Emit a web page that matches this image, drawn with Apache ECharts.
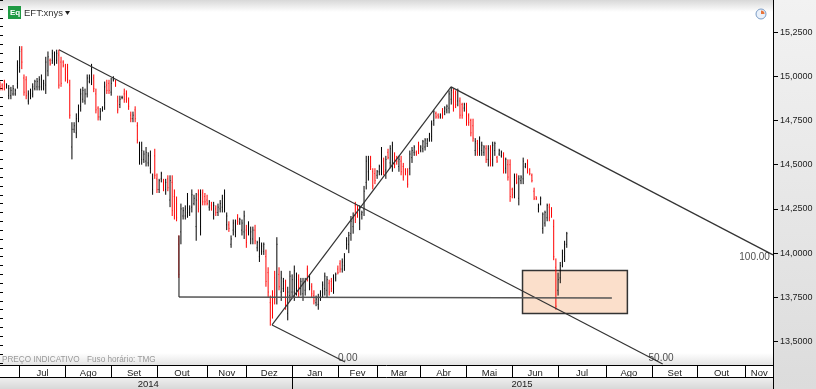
<!DOCTYPE html>
<html>
<head>
<meta charset="utf-8">
<style>html,body{margin:0;padding:0;background:#fff}#chart{width:816px;height:389px}</style>
<script src="https://cdn.jsdelivr.net/npm/echarts@6/dist/echarts.min.js"></script>
</head>
<body>
<div id="chart"></div>
<script>
// daily OHLC, one bar per session
var opens = [
  14.96,14.95,14.97,14.94,14.89,14.89,14.90,14.90,14.96,15.05,
  15.15,14.99,14.98,14.86,14.89,14.90,14.93,14.94,14.94,14.94,
  14.93,14.95,15.03,15.09,15.09,15.08,15.09,15.12,15.08,15.08,
  15.04,15.05,14.95,14.60,14.70,14.68,14.76,14.83,14.87,14.86,
  14.90,14.97,14.98,14.99,14.90,14.82,14.77,14.81,14.85,14.95,
  14.96,14.91,14.98,14.97,14.86,14.84,14.88,14.90,14.90,14.86,
  14.78,14.76,14.81,14.72,14.53,14.53,14.53,14.52,14.51,14.48,
  14.36,14.55,14.42,14.36,14.42,14.40,14.36,14.42,14.30,14.40,
  14.32,14.28,14.05,14.12,14.21,14.21,14.23,14.23,14.26,14.28,
  14.15,14.33,14.15,14.34,14.32,14.30,14.26,14.27,14.22,14.25,
  14.23,14.25,14.26,14.27,14.16,14.16,14.05,14.13,14.12,14.20,
  14.17,14.13,14.12,14.13,14.12,14.08,14.08,14.13,14.03,13.98,
  14.01,14.01,13.98,13.89,13.72,13.75,13.86,13.75,13.88,13.78,
  13.80,13.82,13.66,13.76,13.78,13.78,13.80,13.85,13.80,13.77,
  13.79,13.91,13.82,13.81,13.76,13.72,13.71,13.75,13.78,13.80,
  13.79,13.83,13.84,13.80,13.86,13.91,13.94,13.91,13.93,14.05,
  14.05,14.11,14.15,14.27,14.25,14.17,14.22,14.25,14.40,14.46,
  14.54,14.46,14.45,14.44,14.46,14.49,14.52,14.47,14.57,14.51,
  14.50,14.55,14.53,14.49,14.52,14.49,14.47,14.46,14.48,14.54,
  14.57,14.57,14.61,14.58,14.59,14.60,14.62,14.65,14.66,14.75,
  14.79,14.78,14.77,14.81,14.80,14.81,14.82,14.87,14.91,14.90,
  14.86,14.86,14.84,14.82,14.82,14.78,14.75,14.72,14.58,14.62,
  14.59,14.58,14.57,14.59,14.53,14.58,14.53,14.58,14.54,14.56,
  14.55,14.55,14.48,14.50,14.50,14.36,14.34,14.43,14.31,14.41,
  14.42,14.49,14.52,14.47,14.44,14.35,14.32,14.25,14.28,14.14,
  14.17,14.20,14.26,14.25,14.15,13.92,13.79,13.86,13.95,13.98,14.05
];
var highs = [
  14.97,14.96,14.98,14.96,14.95,14.94,14.95,14.93,15.09,15.17,
  15.17,15.01,15.00,14.92,14.93,14.96,14.98,14.99,15.00,15.01,
  14.98,15.11,15.14,15.10,15.15,15.14,15.15,15.15,15.11,15.09,
  15.07,15.07,14.98,14.74,14.74,14.79,14.84,14.93,14.94,14.93,
  15.01,15.01,15.07,15.01,14.93,14.83,14.82,14.83,14.97,14.98,
  14.98,14.99,15.00,14.98,14.89,14.89,14.89,14.93,14.92,14.88,
  14.80,14.80,14.83,14.74,14.63,14.63,14.58,14.60,14.57,14.58,
  14.45,14.59,14.45,14.42,14.46,14.42,14.42,14.44,14.44,14.44,
  14.36,14.32,14.10,14.28,14.26,14.27,14.34,14.27,14.36,14.33,
  14.34,14.36,14.36,14.36,14.34,14.33,14.30,14.29,14.29,14.27,
  14.28,14.30,14.33,14.36,14.23,14.18,14.10,14.19,14.19,14.22,
  14.20,14.19,14.24,14.16,14.18,14.15,14.15,14.16,14.07,14.09,
  14.06,14.06,14.02,13.92,13.76,13.79,13.90,14.09,13.92,13.90,
  13.86,13.85,13.81,13.90,13.88,13.93,13.89,13.88,13.86,13.86,
  13.86,13.93,13.88,13.83,13.79,13.76,13.77,13.79,13.84,13.89,
  13.87,13.85,13.86,13.88,13.89,13.93,13.96,13.97,14.00,14.09,
  14.12,14.21,14.23,14.29,14.27,14.27,14.24,14.38,14.55,14.55,
  14.55,14.48,14.48,14.47,14.50,14.60,14.54,14.55,14.59,14.61,
  14.63,14.57,14.55,14.55,14.55,14.51,14.48,14.48,14.58,14.60,
  14.61,14.58,14.63,14.61,14.64,14.65,14.65,14.68,14.75,14.81,
  14.80,14.79,14.79,14.82,14.83,14.84,14.92,14.94,14.93,14.92,
  14.93,14.88,14.85,14.85,14.85,14.79,14.76,14.76,14.65,14.64,
  14.66,14.63,14.61,14.61,14.61,14.61,14.63,14.63,14.55,14.59,
  14.58,14.57,14.54,14.53,14.53,14.37,14.45,14.45,14.44,14.44,
  14.54,14.51,14.53,14.48,14.45,14.37,14.32,14.28,14.32,14.23,
  14.24,14.28,14.28,14.26,14.19,13.97,13.89,13.95,14.02,14.07,14.12
];
var lows = [
  14.92,14.92,14.92,14.93,14.87,14.87,14.89,14.89,14.93,15.02,
  15.04,14.89,14.87,14.84,14.87,14.88,14.92,14.92,14.92,14.92,
  14.92,14.90,15.00,15.06,15.07,15.06,15.07,14.93,14.94,15.05,
  14.97,14.96,14.76,14.53,14.68,14.65,14.74,14.80,14.85,14.84,
  14.88,14.96,14.95,14.91,14.79,14.75,14.75,14.80,14.81,14.90,
  14.90,14.89,14.97,14.94,14.79,14.82,14.87,14.85,14.85,14.81,
  14.74,14.74,14.74,14.62,14.50,14.50,14.51,14.49,14.49,14.45,
  14.33,14.42,14.34,14.34,14.40,14.35,14.33,14.35,14.26,14.21,
  14.19,14.18,13.86,14.05,14.19,14.19,14.20,14.21,14.23,14.27,
  14.07,14.23,14.10,14.27,14.27,14.27,14.24,14.24,14.19,14.21,
  14.21,14.23,14.23,14.23,14.13,14.12,14.03,14.10,14.09,14.16,
  14.16,14.10,14.08,14.03,14.10,14.05,14.05,14.05,14.01,13.95,
  13.99,13.99,13.81,13.75,13.59,13.63,13.71,13.71,13.79,13.73,
  13.78,13.68,13.62,13.73,13.75,13.73,13.76,13.75,13.76,13.73,
  13.76,13.84,13.79,13.75,13.71,13.70,13.68,13.73,13.75,13.76,
  13.75,13.76,13.78,13.77,13.84,13.88,13.89,13.89,13.90,14.02,
  14.00,14.07,14.11,14.17,14.20,14.13,14.19,14.21,14.36,14.41,
  14.47,14.36,14.39,14.42,14.44,14.44,14.44,14.42,14.53,14.48,
  14.46,14.48,14.50,14.46,14.44,14.41,14.44,14.37,14.44,14.51,
  14.55,14.55,14.56,14.57,14.57,14.58,14.60,14.63,14.63,14.72,
  14.76,14.76,14.76,14.76,14.78,14.79,14.79,14.84,14.80,14.82,
  14.83,14.76,14.76,14.80,14.72,14.72,14.66,14.63,14.55,14.55,
  14.55,14.55,14.55,14.51,14.49,14.49,14.49,14.55,14.51,14.55,
  14.54,14.45,14.45,14.41,14.29,14.31,14.31,14.39,14.27,14.39,
  14.39,14.48,14.45,14.44,14.40,14.30,14.30,14.23,14.27,14.11,
  14.15,14.18,14.18,14.20,13.96,13.68,13.76,13.83,13.92,13.95,14.03
];
var closes = [
  14.94,14.93,14.93,14.95,14.93,14.92,14.93,14.92,15.06,15.14,
  15.08,14.91,14.89,14.90,14.92,14.94,14.97,14.97,14.98,14.98,
  14.96,15.08,15.11,15.07,15.13,15.12,15.13,14.95,14.96,15.06,
  14.99,14.98,14.78,14.70,14.72,14.76,14.81,14.90,14.92,14.90,
  14.99,14.99,15.04,14.93,14.81,14.77,14.80,14.82,14.94,14.92,
  14.92,14.96,14.99,14.95,14.81,14.87,14.88,14.87,14.87,14.83,
  14.76,14.78,14.76,14.64,14.60,14.58,14.56,14.57,14.55,14.55,
  14.42,14.44,14.36,14.41,14.45,14.37,14.40,14.37,14.41,14.24,
  14.21,14.20,13.88,14.25,14.24,14.25,14.31,14.25,14.33,14.31,
  14.30,14.25,14.33,14.29,14.29,14.28,14.29,14.25,14.27,14.23,
  14.26,14.28,14.31,14.34,14.21,14.14,14.08,14.17,14.17,14.18,
  14.19,14.17,14.21,14.06,14.16,14.12,14.13,14.07,14.06,14.06,
  14.04,14.05,13.84,13.78,13.62,13.66,13.74,14.05,13.81,13.86,
  13.84,13.70,13.78,13.87,13.85,13.90,13.87,13.77,13.84,13.83,
  13.84,13.86,13.86,13.77,13.73,13.74,13.75,13.77,13.82,13.87,
  13.85,13.78,13.80,13.86,13.88,13.89,13.91,13.95,13.98,14.07,
  14.10,14.18,14.21,14.19,14.22,14.25,14.23,14.35,14.52,14.53,
  14.49,14.38,14.41,14.46,14.49,14.57,14.46,14.53,14.54,14.59,
  14.61,14.50,14.52,14.53,14.46,14.43,14.45,14.39,14.56,14.58,
  14.60,14.56,14.58,14.60,14.63,14.64,14.64,14.67,14.73,14.80,
  14.77,14.77,14.78,14.78,14.82,14.83,14.90,14.92,14.82,14.84,
  14.92,14.78,14.78,14.84,14.74,14.74,14.68,14.65,14.63,14.57,
  14.65,14.61,14.60,14.53,14.59,14.51,14.61,14.62,14.52,14.58,
  14.57,14.47,14.53,14.43,14.32,14.33,14.43,14.40,14.42,14.43,
  14.52,14.50,14.46,14.45,14.41,14.31,14.31,14.27,14.31,14.22,
  14.23,14.27,14.20,14.21,13.98,13.70,13.85,13.93,14.00,14.05,14.11
];

// x axis runs in session index; these are the month separators
var monthTicks = [9, 30, 51, 72, 95, 113, 134, 155, 173, 193, 214, 235, 256, 278, 299, 320, 342, 354.6];
var monthLabels = ['Jul', 'Ago', 'Set', 'Out', 'Nov', 'Dez', 'Jan', 'Fev', 'Mar', 'Abr', 'Mai', 'Jun', 'Jul', 'Ago', 'Set', 'Out', 'Nov'];
var yearTicks = [134, 354.6];
var yearLabelPos = [68, 239.5];
var yearLabels = ['2014', '2015'];
var priceTicks = [13.5, 13.75, 14, 14.25, 14.5, 14.75, 15, 15.25];
var minorTicks = [];
for (var t = 1338; t <= 1543; t += 5) minorTicks.push(t / 100);

// drawn trend lines, [session, price] ends
var trendLines = [
  [[27.06, 15.15], [304, 13.373]],
  [[124.8, 13.594], [158.3, 13.385]],
  [[206.9, 14.94], [354.6, 13.99]],
  [[124.8, 13.594], [206.9, 14.94]],
  [[82.1, 13.752], [280.7, 13.746]],
  [[82.1, 14.1], [82.1, 13.752]]
];
var fibLabels = [
  { name: '0.00', value: [164.2, 13.407] },
  { name: '50.00', value: [309.2, 13.407] },
  { name: '100.00', value: [353.4, 13.978] }
];
var boxArea = [[239.7, 13.902], [287.8, 13.659]];

var font = 'Liberation Sans';
var bars = opens.map(function (o, i) {
  return [i, o, highs[i], lows[i], closes[i]];
});
var monthMids = monthLabels.map(function (m, i) {
  return (monthTicks[i] + monthTicks[i + 1]) / 2;
});

function renderBar(params, api) {
  var i = api.value(0);
  var top = api.coord([i, api.value(2)]);
  var bottom = api.coord([i, api.value(3)]);
  var open = api.coord([i, api.value(1)]);
  var close = api.coord([i, api.value(4)]);
  var color = api.value(4) < api.value(1) ? '#ff0000' : '#000000';
  var style = { stroke: color, lineWidth: 1 };
  return {
    type: 'group',
    children: [
      { type: 'line', shape: { x1: top[0], y1: top[1], x2: bottom[0], y2: bottom[1] }, style: style },
      { type: 'line', shape: { x1: open[0] - 0.5, y1: open[1], x2: open[0], y2: open[1] }, style: style },
      { type: 'line', shape: { x1: close[0], y1: close[1], x2: close[0] + 0.5, y2: close[1] }, style: style }
    ]
  };
}

var series = [
  {
    type: 'line',
    data: [],
    silent: true,
    z: 1,
    markArea: {
      silent: true,
      itemStyle: { color: '#fbdfcb', borderColor: '#333', borderWidth: 1.5 },
      data: [[
        { xAxis: boxArea[0][0], yAxis: boxArea[0][1] },
        { xAxis: boxArea[1][0], yAxis: boxArea[1][1] }
      ]]
    }
  },
  {
    type: 'custom',
    data: bars,
    renderItem: renderBar,
    encode: { x: 0, y: [1, 2, 3, 4] },
    clip: true,
    silent: true,
    z: 2
  }
];
trendLines.forEach(function (l, i) {
  // the flat line is drawn heavier and greyer
  var flat = i === 4;
  series.push({
    type: 'line',
    data: l,
    symbol: 'none',
    silent: true,
    z: 3,
    lineStyle: { color: flat ? '#555' : '#333', width: flat ? 1.6 : 1.2 }
  });
});
series.push({
  type: 'scatter',
  data: fibLabels,
  symbolSize: 1,
  itemStyle: { color: 'rgba(0,0,0,0)' },
  silent: true,
  z: 4,
  label: {
    show: true,
    position: 'left',
    distance: 0,
    formatter: '{b}',
    color: '#222',
    fontSize: 10,
    fontFamily: font
  },
  labelLayout: { hideOverlap: false }
});

var option = {
  animation: false,
  backgroundColor: '#fff',
  grid: { left: 0, right: 43, top: 0, bottom: 24 },
  xAxis: [
    {
      type: 'value',
      min: 0,
      max: 354.6,
      position: 'bottom',
      splitLine: { show: false },
      axisLine: { show: true, onZero: false, lineStyle: { color: '#000', width: 1 } },
      axisTick: { show: true, customValues: monthTicks, length: 12, lineStyle: { color: '#000', width: 1 } },
      axisLabel: {
        customValues: monthMids,
        margin: 3,
        fontSize: 9.5,
        fontFamily: font,
        color: '#222',
        formatter: function (v) {
          return monthLabels[monthMids.indexOf(v)] || '';
        }
      }
    },
    {
      type: 'value',
      min: 0,
      max: 354.6,
      position: 'bottom',
      offset: 12,
      splitLine: { show: false },
      axisLine: { show: true, onZero: false, lineStyle: { color: '#000', width: 1 } },
      axisTick: { show: true, customValues: yearTicks, length: 12, lineStyle: { color: '#000', width: 1 } },
      axisLabel: {
        customValues: yearLabelPos,
        margin: 2,
        fontSize: 9.5,
        fontFamily: font,
        color: '#222',
        formatter: function (v) {
          return yearLabels[yearLabelPos.indexOf(v)] || '';
        }
      }
    }
  ],
  yAxis: [
    {
      type: 'value',
      min: 13.3676,
      max: 15.431,
      position: 'right',
      splitLine: { show: false },
      axisLine: { show: true, onZero: false, lineStyle: { color: '#000', width: 1 } },
      axisTick: { show: true, customValues: priceTicks, length: 5, lineStyle: { color: '#000' } },
      axisLabel: {
        customValues: priceTicks,
        margin: 7,
        fontSize: 9,
        fontFamily: font,
        color: '#222',
        formatter: function (v) {
          return v.toFixed(4).replace('.', ',');
        }
      }
    },
    {
      type: 'value',
      min: 13.3676,
      max: 15.431,
      position: 'right',
      splitLine: { show: false },
      axisLine: { show: false },
      axisTick: { show: true, customValues: minorTicks, length: 3, lineStyle: { color: '#000' } },
      axisLabel: { show: false }
    }
  ],
  series: series,
  graphic: [
    {
      type: 'rect', z: -10, shape: { x: 0, y: 0, width: 773, height: 12 },
      style: { fill: new echarts.graphic.LinearGradient(0, 0, 0, 1, [{ offset: 0, color: '#d8d8d8' }, { offset: 1, color: '#ffffff' }]) }
    },
    {
      type: 'rect', z: -10, shape: { x: 773, y: 0, width: 43, height: 389 },
      style: { fill: new echarts.graphic.LinearGradient(0, 0, 0, 1, [{ offset: 0, color: '#f2f2f2' }, { offset: 1, color: '#dcdcdc' }]) }
    },
    {
      type: 'rect', z: -10, shape: { x: 0, y: 353, width: 773, height: 12 },
      style: { fill: new echarts.graphic.LinearGradient(0, 0, 0, 1, [{ offset: 0, color: '#ffffff' }, { offset: 1, color: '#e4e4e4' }]) }
    },
    {
      type: 'rect', z: -10, shape: { x: 0, y: 377, width: 773, height: 12 },
      style: { fill: new echarts.graphic.LinearGradient(0, 0, 0, 1, [{ offset: 0, color: '#f0f0f0' }, { offset: 1, color: '#d8d8d8' }]) }
    },
    { type: 'line', z: 5, shape: { x1: 773.5, y1: 360, x2: 773.5, y2: 389 }, style: { stroke: '#000', lineWidth: 1 } },
    { type: 'rect', z: 5, shape: { x: 8, y: 6, width: 13, height: 13 }, style: { fill: '#1f9a43' } },
    { type: 'text', z: 6, style: { x: 10, y: 8.5, text: 'Eq', fill: '#fff', font: 'bold 8px "Liberation Sans"' } },
    { type: 'text', z: 6, style: { x: 24, y: 8, text: 'EFT:xnys', fill: '#333', font: '9.5px "Liberation Sans"' } },
    { type: 'polygon', z: 6, shape: { points: [[65, 11], [70, 11], [67.5, 15]] }, style: { fill: '#222' } },
    { type: 'circle', z: 6, shape: { cx: 761, cy: 14, r: 5 }, style: { fill: '#eaf1fa', stroke: '#7a9cc6', lineWidth: 1 } },
    { type: 'sector', z: 7, shape: { cx: 761, cy: 14, r: 3.5, r0: 0, startAngle: -Math.PI / 2, endAngle: 0 }, style: { fill: '#e8743b' } },
    { type: 'text', z: 6, style: { x: 2, y: 355.5, text: 'PREÇO INDICATIVO', fill: '#999', font: '8.2px "Liberation Sans"' } },
    { type: 'text', z: 6, style: { x: 87, y: 355.5, text: 'Fuso horário: TMG', fill: '#999', font: '8.2px "Liberation Sans"' } }
  ]
};

var chart = echarts.init(document.getElementById('chart'));
chart.setOption(option);
</script>
</body>
</html>
